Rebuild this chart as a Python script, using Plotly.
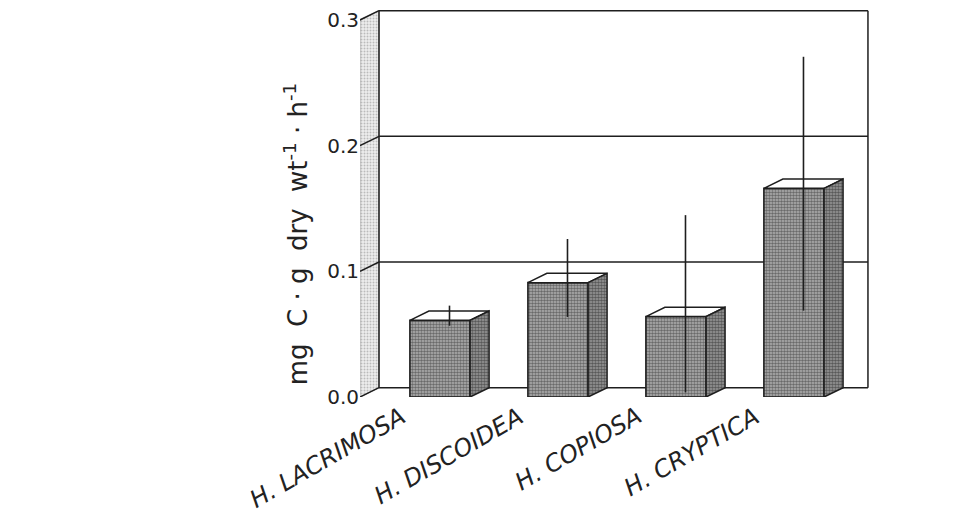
import plotly.graph_objects as go

# ---- data ----
categories = ["H. LACRIMOSA", "H. DISCOIDEA", "H. COPIOSA", "H. CRYPTICA"]
means = [0.061, 0.091, 0.064, 0.166]
sds = [0.008, 0.031, 0.077, 0.101]
y_ticks = [0.0, 0.1, 0.2, 0.3]
y_tick_text = ["0.0", "0.1", "0.2", "0.3"]
NB = "\u00a0"
y_title = ("mg" + NB * 2 + "C" + NB + "·" + NB + "g" + NB * 2 + "dry" + NB * 2 +
           "wt<sup>-1</sup>" + NB + "·" + NB + "h<sup>-1</sup>")

# ---- pseudo-3D geometry (layout, in axis units) ----
BAR_W = 0.51      # bar width in category units
DX = 0.161        # depth offset, x (category units)
DY = 0.0074       # depth offset, y (value units)
X_WALL = -0.678   # front edge of left wall
X_RIGHT = 3.466   # right edge of back wall (front-plane coordinate)
Y_TOP = 0.3

LINE = "#1e1e1e"
FONT = "DejaVu Sans, Liberation Sans, Arial, sans-serif"

xs = list(range(len(categories)))
fig = go.Figure()

# front faces of the bars
fig.add_trace(go.Bar(
    x=xs, y=means, width=BAR_W, base=0,
    marker=dict(color="#808080", line=dict(color=LINE, width=1.6),
                pattern=dict(shape=".", fgcolor="#222222", bgcolor="#b2b2b2",
                             size=3, solidity=0.55)),
    hoverinfo="skip", showlegend=False))

# left wall (stippled)
wx = [X_WALL, X_WALL + DX, X_WALL + DX, X_WALL, X_WALL]
wy = [0, DY, Y_TOP + DY, Y_TOP, 0]
fig.add_trace(go.Scatter(
    x=wx, y=wy, mode="lines", fill="toself",
    line=dict(color="rgba(90,90,90,0.6)", width=0.8),
    fillpattern=dict(shape=".", fgcolor="#8a8a8a", bgcolor="#ededed",
                     size=3, solidity=0.35),
    hoverinfo="skip", showlegend=False))

# wall edges and slanted tick lines
lx, ly = [], []
for v in y_ticks:
    lx += [X_WALL, X_WALL + DX, None]
    ly += [v, v + DY, None]
lx += [X_WALL + DX, X_WALL + DX, None]
ly += [DY, Y_TOP + DY, None]
fig.add_trace(go.Scatter(x=lx, y=ly, mode="lines",
                         line=dict(color=LINE, width=1.5),
                         hoverinfo="skip", showlegend=False))

# back wall outline + gridlines (below the bars)
shapes = []
xb0, xb1 = X_WALL + DX, X_RIGHT + DX
for v in y_ticks:
    shapes.append(dict(type="line", xref="x", yref="y", layer="below",
                       x0=xb0, x1=xb1, y0=v + DY, y1=v + DY,
                       line=dict(color=LINE, width=1.5)))
shapes.append(dict(type="line", xref="x", yref="y", layer="below",
                   x0=xb1, x1=xb1, y0=DY, y1=Y_TOP + DY,
                   line=dict(color=LINE, width=1.5)))

# top and side faces of the bars
for i, m in zip(xs, means):
    xl, xr = i - BAR_W / 2, i + BAR_W / 2
    fig.add_trace(go.Scatter(
        x=[xl, xr, xr + DX, xl + DX, xl], y=[m, m, m + DY, m + DY, m],
        mode="lines", fill="toself", fillcolor="white",
        line=dict(color=LINE, width=1.5), hoverinfo="skip", showlegend=False))
    fig.add_trace(go.Scatter(
        x=[xr, xr + DX, xr + DX, xr, xr], y=[0, DY, m + DY, m, 0],
        mode="lines", fill="toself",
        fillpattern=dict(shape=".", fgcolor="#151515", bgcolor="#9c9c9c",
                         size=3, solidity=0.6),
        line=dict(color=LINE, width=1.5), hoverinfo="skip", showlegend=False))

# error bars (at mid depth), clipped at zero
ex, ey = [], []
for i, m, s in zip(xs, means, sds):
    ex += [i + DX / 2, i + DX / 2, None]
    ey += [max(m - s, 0) + DY / 2, m + s + DY / 2, None]
fig.add_trace(go.Scatter(x=ex, y=ey, mode="lines",
                         line=dict(color=LINE, width=1.6),
                         hoverinfo="skip", showlegend=False))

# category labels, slanted
annotations = []
for i, c in zip(xs, categories):
    annotations.append(dict(
        x=i - BAR_W / 2, y=0, xref="x", yref="y", text="<i>" + c + "</i>",
        showarrow=False, textangle=-30, xanchor="right", yanchor="top",
        yshift=-2, xshift=3,
        font=dict(family=FONT, size=24, color="#222")))

annotations.append(dict(
    x=-0.123, y=0.415, xref="paper", yref="paper", text=y_title,
    showarrow=False, textangle=-90, xanchor="center", yanchor="middle",
    font=dict(family=FONT, size=26, color="#222")))

fig.update_layout(
    width=961, height=517,
    margin=dict(l=360, r=81, t=5, b=120),
    paper_bgcolor="white", plot_bgcolor="white",
    shapes=shapes, annotations=annotations, showlegend=False,
    xaxis=dict(range=[X_WALL, 3.729], showgrid=False, zeroline=False,
               showline=False, showticklabels=False, ticks="", fixedrange=True),
    yaxis=dict(range=[0, 0.3119], tickvals=y_ticks, ticktext=y_tick_text,
               showgrid=False, zeroline=False, showline=False, ticks="",
               tickfont=dict(family=FONT, size=20, color="#222"),
               fixedrange=True),
)

fig.write_html("out.html", config={"displayModeBar": False},
               post_script="document.body.style.margin='0';")
